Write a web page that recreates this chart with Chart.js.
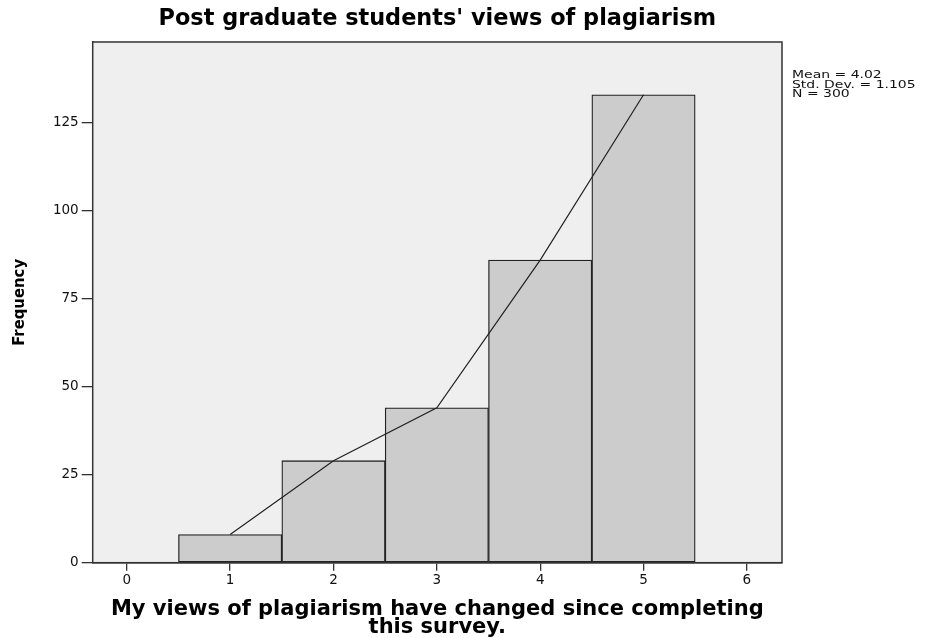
<!DOCTYPE html>
<html>
<head>
<meta charset="utf-8">
<script src="https://cdn.jsdelivr.net/npm/chart.js"></script>
<style>
  html, body { margin: 0; padding: 0; background: #fff; }
  #chart { display: block; }
</style>
</head>
<body>
<canvas id="chart" width="935" height="638"></canvas>

<script>
// histogram data (read from the SPSS output)
const scores = [1, 2, 3, 4, 5];
const frequencies = [8, 29, 44, 86, 133];
const statLines = ['Mean = 4.02', 'Std. Dev. = 1.105', 'N = 300'];

const chartTitle = "Post graduate students' views of plagiarism";
const xTitle = ['My views of plagiarism have changed since completing', 'this survey.'];
const yTitle = 'Frequency';

const points = scores.map((s, i) => ({ x: s, y: frequencies[i] }));

// grey plot area + frame, like SPSS
const plotArea = {
  id: 'plotArea',
  beforeDatasetsDraw(chart) {
    const a = chart.chartArea;
    const ctx = chart.ctx;
    ctx.save();
    ctx.fillStyle = '#efefef';
    ctx.fillRect(a.left, a.top, a.right - a.left, a.bottom - a.top);
    ctx.restore();
  },
  afterDraw(chart) {
    const a = chart.chartArea;
    const ctx = chart.ctx;
    ctx.save();
    ctx.strokeStyle = '#333';
    ctx.lineWidth = 1.5;
    ctx.strokeRect(a.left, a.top, a.right - a.left, a.bottom - a.top);

    // stats box on the right (SPSS text is drawn a bit wide)
    ctx.fillStyle = '#111';
    ctx.font = '10.5px "DejaVu Sans"';
    ctx.textBaseline = 'middle';
    statLines.forEach((t, i) => {
      ctx.save();
      ctx.translate(a.right + 10, 75 + i * 9.8);
      ctx.scale(1.33, 1);
      ctx.fillText(t, 0, 0);
      ctx.restore();
    });
    ctx.restore();
  }
};

new Chart(document.getElementById('chart'), {
  type: 'bar',
  data: {
    datasets: [
      {
        type: 'line',
        data: points,
        borderColor: '#222',
        borderWidth: 1.2,
        pointRadius: 0,
        tension: 0,
        order: 0
      },
      {
        type: 'bar',
        data: points,
        backgroundColor: '#cccccc',
        borderColor: '#222',
        borderWidth: 1.3,
        borderSkipped: false,
        barPercentage: 1,
        categoryPercentage: 1,
        order: 1
      }
    ]
  },
  plugins: [plotArea],
  options: {
    responsive: false,
    animation: false,
    layout: { padding: { left: 0, right: 153, top: 0, bottom: 0 } },
    plugins: {
      legend: { display: false },
      tooltip: { enabled: false },
      title: {
        display: true,
        text: chartTitle,
        fullSize: false,
        color: '#000',
        font: { family: 'DejaVu Sans', size: 22.4, weight: 'bold', lineHeight: 1.08 },
        padding: { top: 7, bottom: 10.8 }
      }
    },
    scales: {
      x: {
        type: 'linear',
        offset: false,
        min: -0.33,
        max: 6.34,
        afterFit: s => { s.height = 75.3; },
        ticks: {
          stepSize: 1,
          includeBounds: false,
          color: '#111',
          padding: 2,
          font: { family: 'DejaVu Sans', size: 13.5 }
        },
        grid: { offset: false, drawOnChartArea: false, drawTicks: true, tickLength: 8, color: '#333', lineWidth: 1.3 },
        border: { display: true, color: '#333', width: 1.5 },
        title: {
          display: true,
          text: xTitle,
          color: '#000',
          font: { family: 'DejaVu Sans', size: 21, weight: 'bold', lineHeight: 0.84 },
          padding: { top: 0, bottom: 2 }
        }
      },
      y: {
        min: 0,
        max: 148,
        afterFit: s => { s.width = 92.7; },
        ticks: {
          stepSize: 25,
          includeBounds: false,
          color: '#111',
          padding: 3,
          font: { family: 'DejaVu Sans', size: 13.5 }
        },
        grid: { drawOnChartArea: false, drawTicks: true, tickLength: 11, color: '#333', lineWidth: 1.3 },
        border: { display: true, color: '#333', width: 1.5 },
        title: {
          display: true,
          text: yTitle,
          color: '#000',
          font: { family: '"Liberation Sans Narrow", "DejaVu Sans Condensed", sans-serif', size: 16.5, weight: 'bold' },
          padding: { top: 10, bottom: 0 }
        }
      }
    }
  }
});
</script>
</body>
</html>
